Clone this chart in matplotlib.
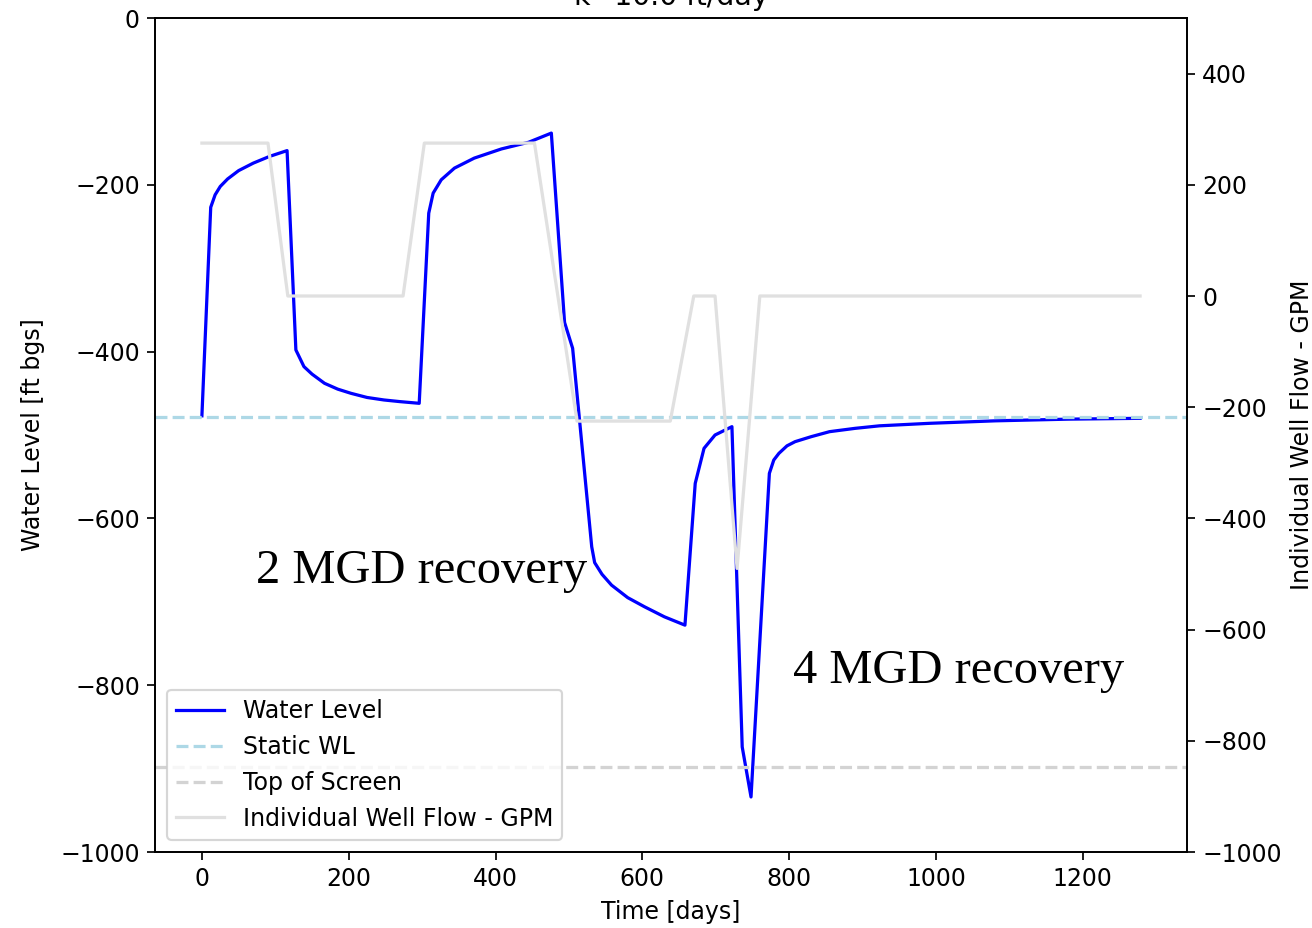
import matplotlib
matplotlib.use("Agg")
import matplotlib.pyplot as plt

# ---- data ----
water_days = [0, 12, 18, 25, 35, 50, 70, 92, 116,
              128, 139, 150, 167, 185, 203, 225, 248, 270, 296,
              309, 315, 326, 344, 371, 408, 445, 476,
              494, 505, 531, 535, 545, 558, 580, 603, 630, 658,
              672, 684, 699, 722,
              736, 748,
              773, 779, 786, 797, 808, 830, 855, 890, 923, 991, 1081, 1180, 1278]
water_level = [-477, -227, -212, -202, -193, -183, -174, -166, -159,
               -398, -418, -427, -438, -445, -450, -455, -458, -460, -462,
               -234, -210, -194, -180, -168, -157, -149, -138,
               -365, -396, -634, -653, -667, -680, -695, -706, -718, -728,
               -558, -516, -500, -490,
               -874, -934,
               -546, -530, -522, -513, -508, -502, -496, -492, -489, -486, -483, -481, -480]

flow_days = [0, 90, 117, 274, 303, 453, 511, 638, 670, 699, 729, 760, 1278]
flow_gpm = [275, 275, 0, 0, 275, 275, -225, -225, 0, 0, -490, 0, 0]

static_wl = -478
top_of_screen = -898

title = "k=10.0 ft/day"
annotations = [("2 MGD recovery", 74, -677), ("4 MGD recovery", 805, -797)]

# ---- figure ----
DPI = 155
plt.rcParams["font.size"] = 11
fig = plt.figure(figsize=(1312 / DPI, 928 / DPI), dpi=DPI)
ax1 = fig.add_axes([155 / 1312, 1 - 852 / 928, (1187 - 155) / 1312, (852 - 18) / 928])
ax2 = ax1.twinx()

l1, = ax1.plot(water_days, water_level, color="blue", lw=1.5, label="Water Level")
l2 = ax1.axhline(static_wl, color="lightblue", ls="--", lw=1.5, label="Static WL")
l3 = ax1.axhline(top_of_screen, color="lightgray", ls="--", lw=1.5, label="Top of Screen")
l4, = ax2.plot(flow_days, flow_gpm, color="#e0e0e0", lw=1.5, label="Individual Well Flow - GPM")

ax1.set_ylim(-1000, 0)
ax2.set_ylim(-1000, 500)
ax1.set_yticks(range(-1000, 1, 200))
ax2.set_yticks(range(-1000, 401, 200))
ax1.set_xticks(range(0, 1201, 200))

ax1.set_xlabel("Time [days]")
ax1.set_ylabel("Water Level [ft bgs]", labelpad=7)
ax2.set_ylabel("Individual Well Flow - GPM", labelpad=4)
ax1.set_title(title)

for txt, x, y in annotations:
    ax1.text(x, y, txt, family="Liberation Serif", fontsize=22.5, color="black",
             ha="left", va="baseline")

ax2.legend(handles=[l1, l2, l3, l4], loc="lower left", fontsize=11)

fig.savefig("out.png", dpi=DPI)
